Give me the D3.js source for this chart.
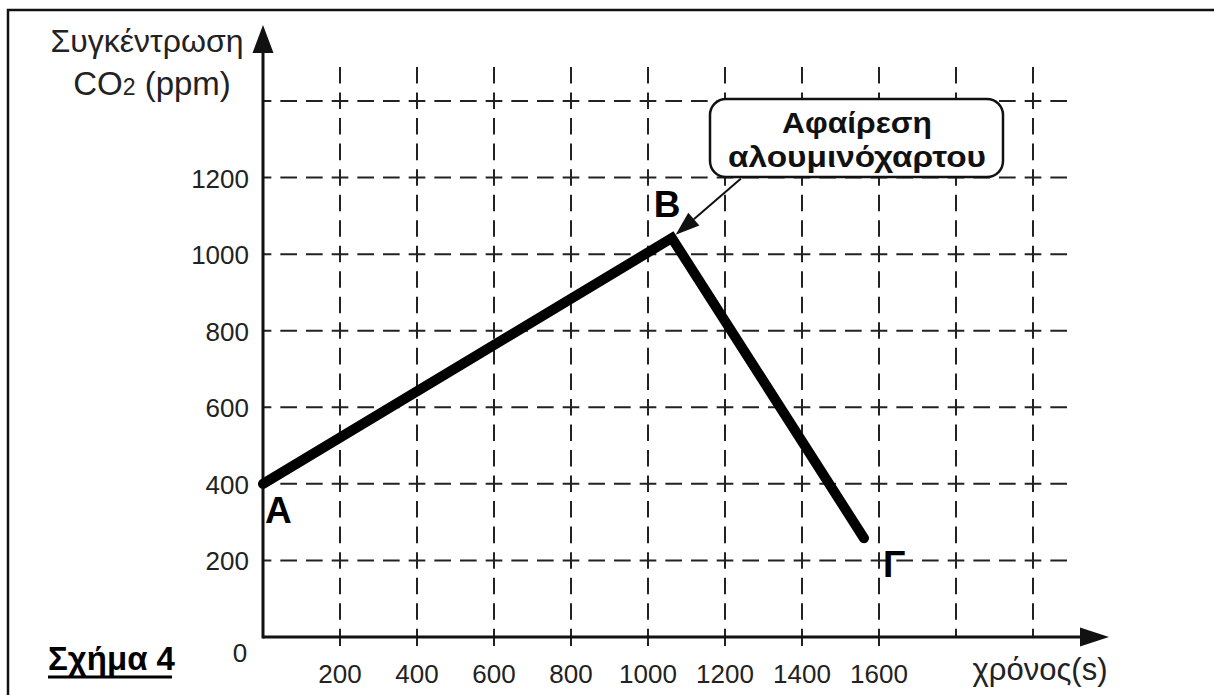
<!DOCTYPE html>
<html><head><meta charset="utf-8">
<script src="https://cdn.jsdelivr.net/npm/d3@7"></script>
<style>body{margin:0;background:#fff}svg text{font-family:"Liberation Sans",Arial,sans-serif}</style>
</head><body><svg id="c" width="1214" height="695"></svg>
<script>
// ---- data ----
const timeTicks = [200, 400, 600, 800, 1000, 1200, 1400, 1600];
const timeGrid = [200, 400, 600, 800, 1000, 1200, 1400, 1600, 1800, 2000];
const concTicks = [0, 200, 400, 600, 800, 1000, 1200];
const concGrid = [200, 400, 600, 800, 1000, 1200, 1400];
const pointLabels = ["A", "B", "Γ"];
const times = [0, 1062, 1561];
const conc = [400, 1042, 258];
const yTitle = ["Συγκέντρωση", "CO", "2", " (ppm)"];
const xTitle = "χρόνος(s)";
const noteLines = ["Αφαίρεση", "αλουμινόχαρτου"];
const figLabel = "Σχήμα 4";

const svg = d3.select("#c");
const x = d3.scaleLinear().domain([0, 2000]).range([263, 1033]);
const y = d3.scaleLinear().domain([0, 1400]).range([637, 101]);
const ink = "#111";

// frame
svg.append("path").attr("d", "M8,700 L8,10 L1220,10").attr("fill", "none").attr("stroke", ink).attr("stroke-width", 2.5);

// grid
const perX = 77 / 3, perY = 76.6 / 3;
svg.append("g").selectAll("line").data(concGrid).join("line")
  .attr("x1", x(0)).attr("x2", 1073).attr("y1", d => y(d)).attr("y2", d => y(d))
  .attr("stroke", "#222").attr("stroke-width", 2)
  .attr("stroke-dasharray", `${perX - 9},9`).attr("stroke-dashoffset", -(9 + (perX - 9) / 2) + perX);
svg.append("g").selectAll("line").data(timeGrid).join("line")
  .attr("x1", d => x(d)).attr("x2", d => x(d)).attr("y1", y(0)).attr("y2", 65)
  .attr("stroke", "#222").attr("stroke-width", 2)
  .attr("stroke-dasharray", `${perY - 9},9`).attr("stroke-dashoffset", -(9 + (perY - 9) / 2) + perY);
// ticks below x axis
svg.append("g").selectAll("line").data(timeTicks).join("line")
  .attr("x1", d => x(d)).attr("x2", d => x(d)).attr("y1", y(0)).attr("y2", y(0) + 9)
  .attr("stroke", "#222").attr("stroke-width", 2);

// axes
svg.append("line").attr("x1", x(0)).attr("x2", 1085).attr("y1", y(0)).attr("y2", y(0)).attr("stroke", ink).attr("stroke-width", 3);
svg.append("line").attr("x1", x(0)).attr("x2", x(0)).attr("y1", y(0) + 1.5).attr("y2", 48).attr("stroke", ink).attr("stroke-width", 3);
svg.append("path").attr("d", `M${x(0)},25 L${x(0) + 10.5},53 L${x(0) - 10.5},53 Z`).attr("fill", ink);
svg.append("path").attr("d", `M1109,${y(0)} L1080,${y(0) - 9.5} L1080,${y(0) + 9.5} Z`).attr("fill", ink);

// tick labels
svg.append("g").selectAll("text").data(concTicks).join("text")
  .attr("x", d => d === 0 ? 240 : 249).attr("y", d => d === 0 ? 662 : y(d) + 10)
  .attr("text-anchor", d => d === 0 ? "middle" : "end")
  .attr("font-size", 26).attr("fill", "#222").text(d => d);
svg.append("g").selectAll("text").data(timeTicks).join("text")
  .attr("x", d => x(d)).attr("y", 683).attr("text-anchor", "middle")
  .attr("font-size", 26).attr("fill", "#222").text(d => d);

// axis titles
svg.append("text").attr("x", 147).attr("y", 52).attr("text-anchor", "middle").attr("font-size", 32).attr("fill", "#222").text(yTitle[0]);
const t2 = svg.append("text").attr("x", 152).attr("y", 95).attr("text-anchor", "middle").attr("font-size", 33).attr("fill", "#222");
t2.append("tspan").text(yTitle[1]);
t2.append("tspan").attr("font-size", 23).text(yTitle[2]);
t2.append("tspan").text(yTitle[3]);
svg.append("text").attr("x", 1040).attr("y", 680).attr("text-anchor", "middle").attr("font-size", 31).attr("fill", "#222").text(xTitle);

// data line
const pts = times.map((t, i) => [x(t), y(conc[i])]);
svg.append("path").attr("d", d3.line()(pts)).attr("fill", "none").attr("stroke", "#000")
  .attr("stroke-width", 10).attr("stroke-linecap", "round").attr("stroke-linejoin", "miter");

// point labels
const lblOff = [[2, 39], [-18, -21], [19, 39]];
svg.append("g").selectAll("text").data(pointLabels).join("text")
  .attr("x", (d, i) => pts[i][0] + lblOff[i][0]).attr("y", (d, i) => pts[i][1] + lblOff[i][1])
  .attr("font-size", 37).attr("font-weight", "bold").attr("fill", "#000").text(d => d);

// annotation box
svg.append("rect").attr("x", 710).attr("y", 99).attr("width", 293).attr("height", 78).attr("rx", 16)
  .attr("fill", "#fff").attr("stroke", ink).attr("stroke-width", 2.5);
svg.append("g").selectAll("text").data(noteLines).join("text")
  .attr("x", 857).attr("y", (d, i) => 133 + i * 34).attr("text-anchor", "middle")
  .attr("font-size", 30).attr("font-weight", "bold").attr("fill", "#111")
  .attr("textLength", (d, i) => i === 0 ? 150 : 258).attr("lengthAdjust", "spacingAndGlyphs")
  .text(d => d);

// annotation arrow
const bx = pts[1][0], by = pts[1][1];
const sx = 741, sy = 178.5;
const ang = Math.atan2(by - sy, bx - sx);
const tipX = bx - Math.cos(ang) * 5, tipY = by - Math.sin(ang) * 5;
const hl = 24, hw = 8.5;
const baseX = tipX - Math.cos(ang) * hl, baseY = tipY - Math.sin(ang) * hl;
svg.append("line").attr("x1", sx).attr("y1", sy).attr("x2", baseX).attr("y2", baseY).attr("stroke", ink).attr("stroke-width", 2);
svg.append("path").attr("d", `M${tipX},${tipY} L${baseX - Math.sin(ang) * hw},${baseY + Math.cos(ang) * hw} L${baseX + Math.sin(ang) * hw},${baseY - Math.cos(ang) * hw} Z`).attr("fill", ink);

// figure label
svg.append("text").attr("x", 48).attr("y", 670).attr("font-size", 33).attr("font-weight", "bold").attr("fill", "#000").text(figLabel);
svg.append("line").attr("x1", 48).attr("x2", 172).attr("y1", 677).attr("y2", 677).attr("stroke", "#000").attr("stroke-width", 3);
</script></body></html>
